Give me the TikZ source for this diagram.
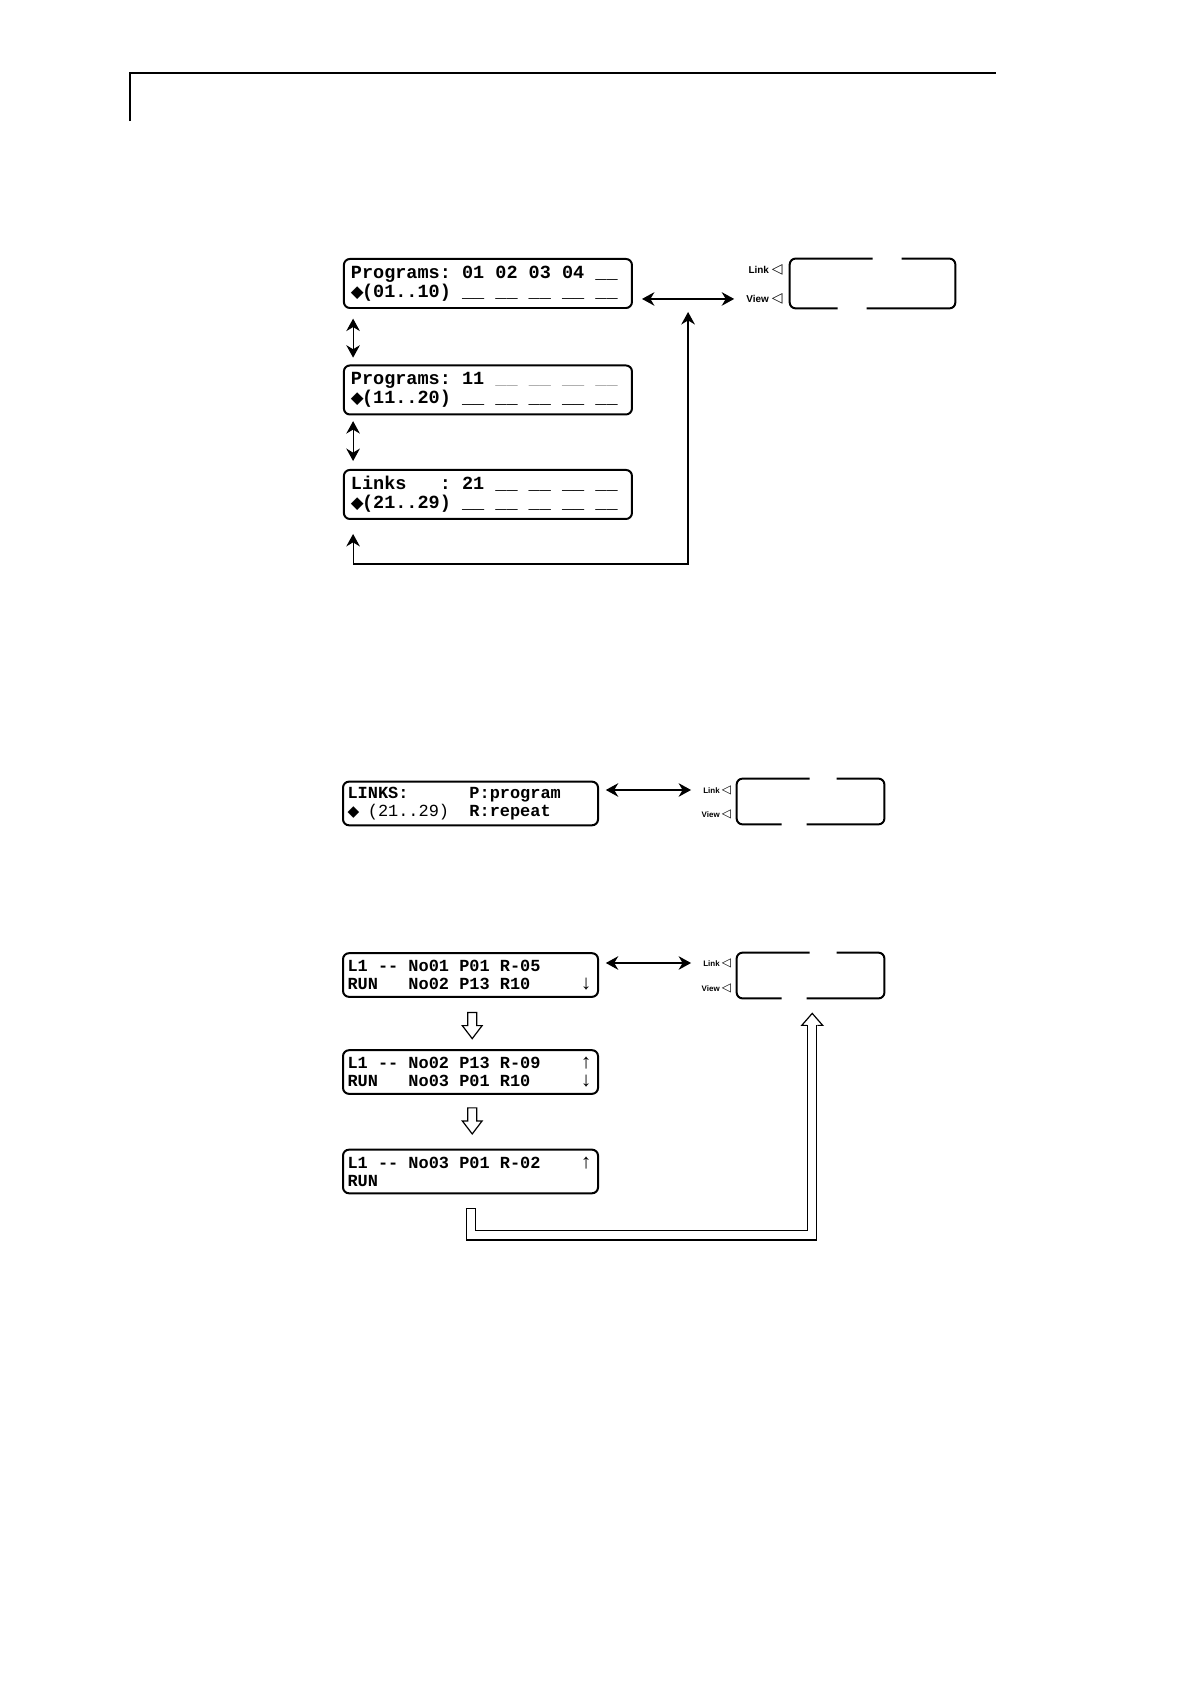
\documentclass[tikz,border=0pt]{standalone}
\usepackage{fontspec}
\setmainfont{Liberation Sans}
\setmonofont{Liberation Mono}
\newfontfamily\dejavu{DejaVu Sans}
\usetikzlibrary{arrows.meta, positioning, calc}

\newcommand{\dia}{\makebox[0.6em][l]{\dejavu\scalebox{0.9}{◆}}}
\newcommand{\lcdslot}{\_\_}
\newcommand{\lcdspace}{\spaceskip=0.6em\xspaceskip=0.6em\relax}
\newcommand{\keytri}[1]{{\dejavu\fontsize{#1}{#1}\selectfont ◁}}
\newcommand{\scrup}{\makebox[0.6em]{\rmfamily\mdseries\scalebox{1.25}[1.2]{↑}}}
\newcommand{\scrdn}{\makebox[0.6em]{\rmfamily\mdseries\scalebox{1.25}[1.2]{↓}}}

\tikzset{
  lcd/.style={draw, rounded corners=3pt, line width=1pt, align=left, inner ysep=0pt},
  lcdbig/.style={lcd, text width=4.835cm, inner xsep=0.124cm, minimum height=0.865cm,
    font=\ttfamily\bfseries\frenchspacing\fontsize{9.3}{9.5}\selectfont},
  lcdsmall/.style={lcd, text width=4.34cm, inner xsep=0.08cm, minimum height=0.77cm,
    font=\ttfamily\bfseries\frenchspacing\fontsize{8.5}{9}\selectfont},
  panel/.style={inner sep=0pt},
  keylbl/.style={font=\bfseries, inner sep=0pt, anchor=east},
  dblarrow/.style={{Stealth[length=0.22cm,width=0.24cm]}-{Stealth[length=0.22cm,width=0.24cm]}, line width=0.6pt},
  panelline/.style={line width=1pt, rounded corners=3pt},
  hollow/.style={double, double distance=0.14cm, line width=0.6pt},
}

\begin{document}
\begin{tikzpicture}

  \path[fill=white, use as bounding box] (0,0) rectangle (21,29.717);

  %% page header
  \draw[line width=0.8pt] (2.294,27.58) -- (2.294,28.43) -- (17.58,28.43);

  %% program screens
  \node[lcdbig] (b1) at (8.61,24.714)
    {\lcdspace Programs: 01 02 03 04 \lcdslot\\\dia(01..10) \lcdslot{} \lcdslot{} \lcdslot{} \lcdslot{} \lcdslot};
  \node[lcdbig] (b2) at (8.61,22.835)
    {\lcdspace Programs: 11 {\color{gray!70}\mdseries\lcdslot{} \lcdslot{} \lcdslot{} \lcdslot}\\\dia(11..20) \lcdslot{} \lcdslot{} \lcdslot{} \lcdslot{} \lcdslot};
  \node[lcdbig] (b3) at (8.61,20.991)
    {\lcdspace Links~~~: 21 \lcdslot{} \lcdslot{} \lcdslot{} \lcdslot\\\dia(21..29) \lcdslot{} \lcdslot{} \lcdslot{} \lcdslot{} \lcdslot};

  \node[panel, minimum width=2.91cm, minimum height=0.865cm] (d1) at (15.397,24.714) {};
  \draw[panelline] ([xshift=1.465cm]d1.north west) -- (d1.north west) -- (d1.south west) -- ([xshift=0.847cm]d1.south west);
  \draw[panelline] ([xshift=1.359cm]d1.south west) -- (d1.south east) -- (d1.north east) -- ([xshift=1.976cm]d1.north west);
  \node[keylbl, font=\bfseries\fontsize{5}{5}\selectfont] (lk1) at ([xshift=-0.12cm, yshift=0.238cm]d1.west) {Link \keytri{7}};
  \node[keylbl, font=\bfseries\fontsize{5}{5}\selectfont] (vw1) at ([xshift=-0.12cm, yshift=-0.273cm]d1.west) {View \keytri{7}};

  \draw[dblarrow] ([xshift=0.18cm, yshift=-0.17cm]b1.south west) -- ([xshift=0.18cm, yshift=0.12cm]b2.north west);
  \draw[dblarrow] ([xshift=0.18cm, yshift=-0.1cm]b2.south west) -- ([xshift=0.18cm, yshift=0.14cm]b3.north west);
  \draw[dblarrow] ($(b1.east |- vw1.west)+(0.16,0)$) -- coordinate (h1) ($(vw1.west)+(-0.21,0)$);
  \draw[dblarrow] ([xshift=0.18cm, yshift=-0.247cm]b3.south west) -- ++(0,-0.529) -| ([yshift=-0.23cm]h1);

  %% links overview
  \node[lcdsmall] (bm) at (8.303,15.538)
    {\lcdspace LINKS:~~~~~~P:program\\\dia~{\mdseries(21..29)}~~R:repeat};

  \node[panel, minimum width=2.594cm, minimum height=0.794cm] (dm) at (14.303,15.573) {};
  \draw[panelline] ([xshift=1.288cm]dm.north west) -- (dm.north west) -- (dm.south west) -- ([xshift=0.794cm]dm.south west);
  \draw[panelline] ([xshift=1.235cm]dm.south west) -- (dm.south east) -- (dm.north east) -- ([xshift=1.765cm]dm.north west);
  \node[keylbl, font=\bfseries\fontsize{4}{4}\selectfont] (lkm) at ([xshift=-0.09cm, yshift=0.203cm]dm.west) {Link \keytri{6}};
  \node[keylbl, font=\bfseries\fontsize{4}{4}\selectfont] (vwm) at ([xshift=-0.09cm, yshift=-0.22cm]dm.west) {View \keytri{6}};

  \draw[dblarrow] ($(bm.east |- lkm.west)+(0.12,0)$) -- ($(lkm.west)+(-0.21,0)$);

  %% link run screens
  \node[lcdsmall] (ba) at (8.303,12.511)
    {\lcdspace L1 -{}- No01 P01 R-05\\RUN~~~No02 P13 R10~~~~~\scrdn};
  \node[lcdsmall] (bb) at (8.303,10.799)
    {\lcdspace L1 -{}- No02 P13 R-09~~~~\scrup\\RUN~~~No03 P01 R10~~~~~\scrdn};
  \node[lcdsmall] (bc) at (8.303,9.044)
    {\lcdspace L1 -{}- No03 P01 R-02~~~~\scrup\\RUN};

  \node[panel, minimum width=2.594cm, minimum height=0.794cm] (db) at (14.303,12.502) {};
  \draw[panelline] ([xshift=1.288cm]db.north west) -- (db.north west) -- (db.south west) -- ([xshift=0.794cm]db.south west);
  \draw[panelline] ([xshift=1.235cm]db.south west) -- (db.south east) -- (db.north east) -- ([xshift=1.765cm]db.north west);
  \node[keylbl, font=\bfseries\fontsize{4}{4}\selectfont] (lkb) at ([xshift=-0.09cm, yshift=0.221cm]db.west) {Link \keytri{6}};
  \node[keylbl, font=\bfseries\fontsize{4}{4}\selectfont] (vwb) at ([xshift=-0.09cm, yshift=-0.22cm]db.west) {View \keytri{6}};

  \draw[dblarrow] ($(ba.east |- lkb.west)+(0.12,0)$) -- ($(lkb.west)+(-0.21,0)$);

  % hollow arrows
  \draw[line width=0.6pt] ([xshift=-0.05cm, yshift=-0.26cm]ba.south) -- ++(0,-0.23) -- ++(-0.095,0)
    -- ++(0.175,-0.23) -- ++(0.175,0.23) -- ++(-0.095,0) -- ++(0,0.23) -- cycle;
  \draw[line width=0.6pt] ([xshift=-0.05cm, yshift=-0.23cm]bb.south) -- ++(0,-0.23) -- ++(-0.095,0)
    -- ++(0.175,-0.23) -- ++(0.175,0.23) -- ++(-0.095,0) -- ++(0,0.23) -- cycle;

  \draw[hollow] ([xshift=0.01cm, yshift=-0.25cm]bc.south) -- ++(0,-0.476) -| ([xshift=0.03cm, yshift=-0.476cm]db.south);
  \draw[line width=0.6pt] ([xshift=-0.081cm, yshift=-0.25cm]bc.south) -- ++(0.182,0);
  \draw[line width=0.6pt] ([xshift=-0.06cm, yshift=-0.476cm]db.south) -- ++(-0.095,0) -- ++(0.185,0.212)
    -- ++(0.185,-0.212) -- ++(-0.095,0);

\end{tikzpicture}
\end{document}
